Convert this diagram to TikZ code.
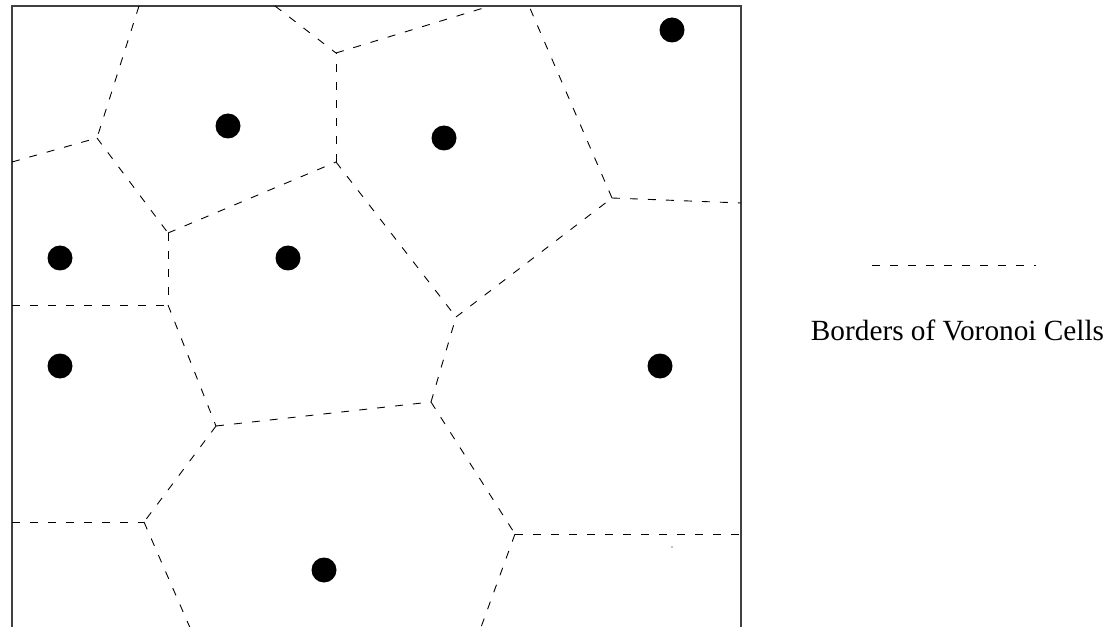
\documentclass[tikz,border=0pt]{standalone}
\usepackage{fontspec}
\setmainfont{Liberation Serif}
\begin{document}
\begin{tikzpicture}[x=1bp,y=-1bp,
  border/.style={black,line width=0.9bp,dash pattern=on 8bp off 10bp},
  site/.style={circle,fill=black,inner sep=0pt,minimum size=25bp},
  frame/.style={draw=black!75,line width=1.1bp}]
\useasboundingbox (0,0) rectangle (1106,627);
\clip (0,0) rectangle (1106,627);
% frame
\draw[frame] (12,660) -- (12,6) -- (741,6) -- (741,660);
% boundary points
\coordinate (tA) at (139,6);
\coordinate (tB) at (275,6);
\coordinate (tC) at (490,6);
\coordinate (tD) at (529,6);
\coordinate (l1) at (12,162);
\coordinate (l2) at (12,305);
\coordinate (l3) at (12,522);
\coordinate (r1) at (741,203);
\coordinate (r2) at (741,534);
\coordinate (b1) at (191,630);
\coordinate (b2) at (480,630);
% Voronoi vertices
\coordinate (B) at (97,138);
\coordinate (C) at (168,233);
\coordinate (D) at (336,162);
\coordinate (E) at (336,53);
\coordinate (F) at (168,305);
\coordinate (G) at (216,426);
\coordinate (H) at (431,402);
\coordinate (I) at (144,522);
\coordinate (J) at (456,317);
\coordinate (K) at (612,198);
\coordinate (L) at (515,534);
% edges
\draw[border] (tA) -- (B);
\draw[border] (l1) -- (B);
\draw[border] (B) -- (C);
\draw[border] (C) -- (D);
\draw[border] (D) -- (E);
\draw[border] (tB) -- (E);
\draw[border] (E) -- (tC);
\draw[border] (C) -- (F);
\draw[border] (l2) -- (F);
\draw[border] (F) -- (G);
\draw[border] (G) -- (H);
\draw[border] (G) -- (I);
\draw[border] (l3) -- (I);
\draw[border] (I) -- (b1);
\draw[border] (H) -- (J);
\draw[border] (D) -- (J);
\draw[border] (J) -- (K);
\draw[border] (K) -- (tD);
\draw[border] (K) -- (r1);
\draw[border] (H) -- (L);
\draw[border] (L) -- (r2);
\draw[border] (L) -- (b2);
% sites
\node[site] (s1) at (228,126) {};
\node[site] (s2) at (444,138) {};
\node[site] (s3) at (672,30) {};
\node[site] (s4) at (60,258) {};
\node[site] (s5) at (288,258) {};
\node[site] (s6) at (60,366) {};
\node[site] (s7) at (660,366) {};
\node[site] (s8) at (324,570) {};
\fill (672,547) circle (0.6bp);
% legend
\coordinate (g1) at (872,265);
\coordinate (g2) at (1036,265);
\draw[border] (g1) -- (g2);
\node[font=\fontsize{29.4}{32}\selectfont,inner sep=0pt] (leg) at (957.5,330) {Borders of Voronoi Cells};
\end{tikzpicture}
\end{document}
